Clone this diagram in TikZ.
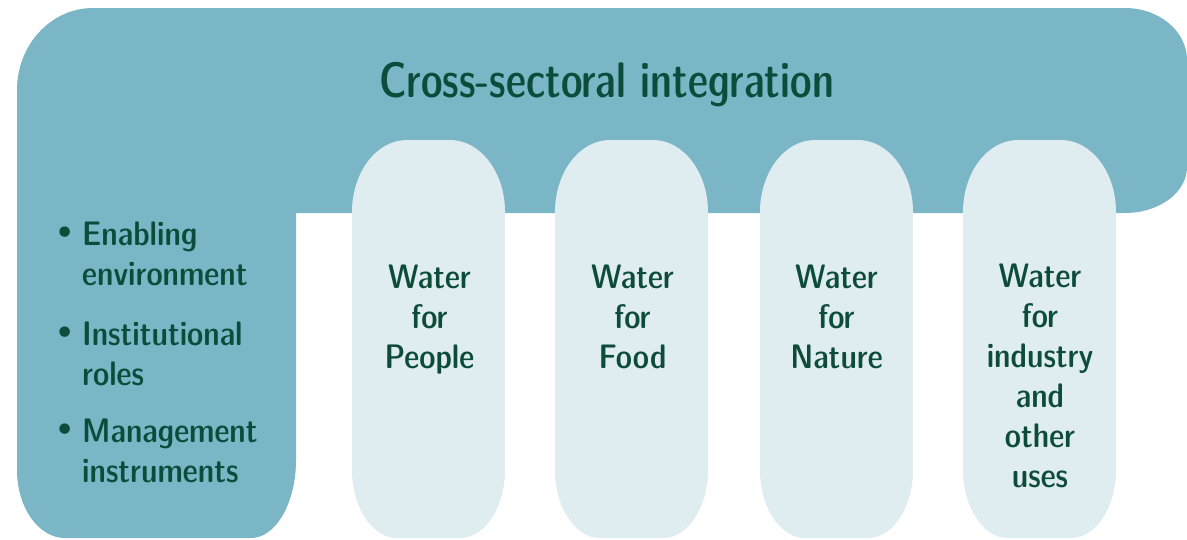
\documentclass[tikz,border=0pt]{standalone}
\usepackage{fontspec}
\usepackage{graphicx}
\newfontfamily\dotfont{DejaVu Sans}
\definecolor{teal}{HTML}{7BB6C6}
\definecolor{pale}{HTML}{DFEDF1}
\definecolor{ink}{HTML}{0D4B3B}
\newcommand{\pillshape}{%
  (0,212) .. controls (0,172.3) and (24.6,140) .. (55,140)
  -- (98,140) .. controls (128.4,140) and (153,172.3) .. (153,212)
  -- (153,470) .. controls (153,507.5) and (132.8,538) .. (108,538)
  -- (45,538) .. controls (20.2,538) and (0,507.5) .. (0,470) -- cycle}
\newcommand{\itembul}{\makebox[27pt][l]{\hspace*{-0.5pt}{\dotfont\fontsize{36}{40}\selectfont •}}}
\begin{document}
\begin{tikzpicture}[x=1pt,y=-1pt,
  txt/.style={text=ink,inner sep=0pt,font=\sffamily\fontseries{sbc}\selectfont\fontsize{34}{40}\selectfont},
  pilltxt/.style={txt,align=center,anchor=base},
  itemtxt/.style={txt,align=left,anchor=base west}]
\useasboundingbox (0,0) rectangle (1187,539);
\fill[teal] (17,90) .. controls (17,44.7) and (51,8) .. (93,8)
  -- (1125,8) .. controls (1159.2,8) and (1187,31.3) .. (1187,60)
  -- (1187,167) .. controls (1187,192.4) and (1159.2,213) .. (1125,213)
  -- (296,213) -- (296,460)
  .. controls (296,503) and (275.8,538) .. (251,538)
  -- (65,538) .. controls (38.5,538) and (17,507.5) .. (17,470) -- cycle;
\foreach \L in {352,555,760,963}{
  \begin{scope}[xshift=\L pt]
    \fill[pale] \pillshape;
  \end{scope}}
\node[txt,anchor=base,font=\sffamily\fontseries{sbc}\selectfont\fontsize{50}{60}\selectfont] (title) at (606.5,97) {\scalebox{0.906}[1]{Cross-sectoral integration}};
\node[pilltxt] (people) at (429.5,368) {Water\\for\\People};
\node[pilltxt] (food) at (632.5,368) {Water\\for\\Food};
\node[pilltxt] (nature) at (836.5,368) {Water\\for\\Nature};
\node[pilltxt] (industry) at (1040,487) {Water\\for\\industry\\and\\other\\uses};
\node[itemtxt] (enab) at (55,285) {\itembul Enabling\\\hspace*{27pt}environment};
\node[itemtxt] (inst) at (55,385) {\itembul Institutional\\\hspace*{27pt}roles};
\node[itemtxt] (mgmt) at (55,482) {\itembul Management\\\hspace*{27pt}instruments};
\end{tikzpicture}
\end{document}
